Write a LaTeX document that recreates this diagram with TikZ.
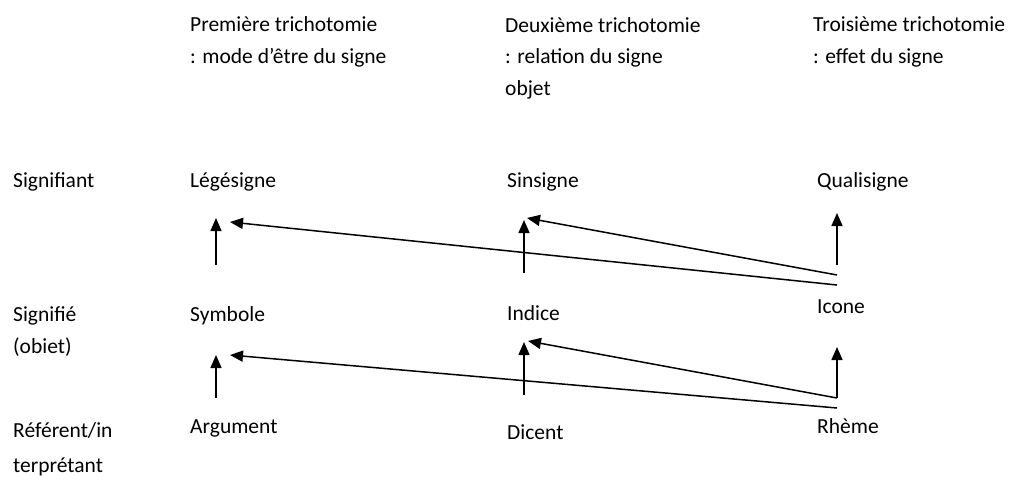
\documentclass[tikz,border=0pt]{standalone}
\usepackage{fontspec}
\setmainfont{Carlito}
\usepackage{tikz}
\usetikzlibrary{arrows.meta, positioning}

\begin{document}
\begin{tikzpicture}[
  x=1pt, y=-1pt,
  every node/.style={font=\fontsize{21.5}{31.5}\selectfont, inner sep=0pt,
                     anchor=base west, align=left},
  lbl/.style={},
  arr/.style={-{Triangle[length=13pt, width=11pt]}, line width=1.5pt},
]
  \useasboundingbox (0,0) rectangle (1035,479);

  % column headings (placed by the baseline of their last line)
  \node[lbl] (tri1) at (190, 63) {Première trichotomie\\: mode d'être du signe};
  \node[lbl] (tri2) at (505, 95) {Deuxième trichotomie\\: relation du signe\\objet};
  \node[lbl] (tri3) at (813, 63) {Troisième trichotomie\\: effet du signe};

  % row headings
  \node[lbl] (sigt) at (13, 187) {Signifiant};
  \node[lbl] (sige) at (13, 353) {Signifié\\(obiet)};
  \node[lbl, font=\fontsize{21.5}{35}\selectfont] (refi) at (13, 472) {Référent/in\\terprétant};

  % signs
  \node[lbl] (leg) at (190, 187) {Légésigne};
  \node[lbl] (sin) at (507, 187) {Sinsigne};
  \node[lbl] (qua) at (817, 187) {Qualisigne};
  \node[lbl] (sym) at (190, 321) {Symbole};
  \node[lbl] (ind) at (507, 320) {Indice};
  \node[lbl] (ico) at (817, 313) {Icone};
  \node[lbl] (arg) at (190, 433) {Argument};
  \node[lbl] (dic) at (507, 439) {Dicent};
  \node[lbl] (rhe) at (817, 433) {Rhème};

  % arrow ends
  \coordinate (legin)  at (216, 218);
  \coordinate (legin2) at (230, 222);
  \coordinate (symout) at (216, 265);
  \coordinate (sinin)  at (524, 220);
  \coordinate (sinin2) at (527, 218);
  \coordinate (indout) at (524, 273);
  \coordinate (quain)  at (837, 213);
  \coordinate (icoout) at (837, 265);
  \coordinate (icoout2) at (837, 275);
  \coordinate (icoout3) at (837, 285);

  \coordinate (symin)  at (216, 355);
  \coordinate (symin2) at (230, 355);
  \coordinate (argout) at (216, 398);
  \coordinate (indin)  at (524, 342);
  \coordinate (indin2) at (528, 341);
  \coordinate (dicout) at (524, 395);
  \coordinate (icoin)  at (837, 347);
  \coordinate (rheout) at (837, 398);
  \coordinate (rheout2) at (837, 408);

  \draw[arr] (symout) -- (legin);
  \draw[arr] (indout) -- (sinin);
  \draw[arr] (icoout) -- (quain);
  \draw[arr] (icoout2) -- (sinin2);
  \draw[arr] (icoout3) -- (legin2);

  \draw[arr] (argout) -- (symin);
  \draw[arr] (dicout) -- (indin);
  \draw[arr] (rheout) -- (icoin);
  \draw[arr] (rheout) -- (indin2);
  \draw[arr] (rheout2) -- (symin2);
\end{tikzpicture}
\end{document}
